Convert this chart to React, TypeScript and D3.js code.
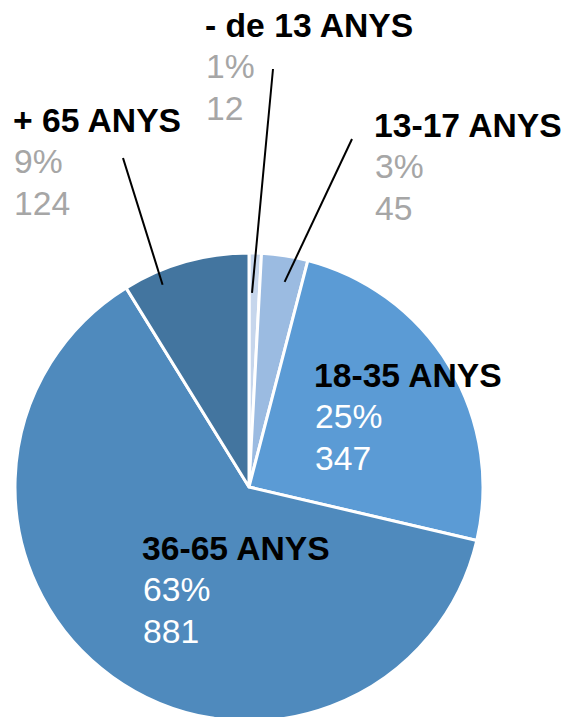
import React from "react";
import * as d3 from "d3";

const categories = ["- de 13 ANYS", "13-17 ANYS", "18-35 ANYS", "36-65 ANYS", "+ 65 ANYS"];
const values = [12, 45, 347, 881, 124];
const percentLabels = ["1%", "3%", "25%", "63%", "9%"];
const colors = ["#c6d6ec", "#9bbbe1", "#5b9bd5", "#4f8abd", "#43759f"];
const valueColors = ["#a6a6a6", "#a6a6a6", "#ffffff", "#ffffff", "#a6a6a6"];

// label layout: text anchor (left, title baseline), leader outer end, leader inner (fraction of slice angle, fraction of radius)
const labelX = [205, 374, 314, 142, 13];
const labelY = [37, 137, 387, 560, 132];
const leaderOuter: ([number, number] | null)[] = [[273, 69], [352, 139], null, null, [123, 158]];
const leaderAngleFrac = [0.29, 0.59, 0, 0, 0.27];
const leaderRadiusFrac = [0.83, 0.89, 0, 0, 0.94];

const W = 568;
const H = 717;
const cx = 249;
const cy = 487;
const R = 234;
const LINE = 41.5;
const SX = 1.02;

export default function App() {
  const pie = d3.pie<number>().sort(null).startAngle(0).endAngle(2 * Math.PI);
  const arcs = pie(values);
  const arc = d3.arc<d3.PieArcDatum<number>>().innerRadius(0).outerRadius(R);

  return (
    <svg
      width={W}
      height={H}
      style={{ position: "absolute", left: 0, top: 0, fontFamily: "'Liberation Sans', Arial, sans-serif" }}
    >
      <g transform={`translate(${cx},${cy})`}>
        {arcs.map((a, i) => (
          <path key={i} d={arc(a) || ""} fill={colors[i]} stroke="#ffffff" strokeWidth={3} strokeLinejoin="round" />
        ))}
      </g>
      {arcs.map((a, i) => {
        const o = leaderOuter[i];
        if (!o) return null;
        const ang = a.startAngle + (a.endAngle - a.startAngle) * leaderAngleFrac[i];
        const r = R * leaderRadiusFrac[i];
        const ix = cx + r * Math.sin(ang);
        const iy = cy - r * Math.cos(ang);
        return <line key={"l" + i} x1={o[0]} y1={o[1]} x2={ix} y2={iy} stroke="#000" strokeWidth={2} />;
      })}
      {categories.map((c, i) => (
        <g key={"t" + i} transform={`translate(${labelX[i]},${labelY[i]}) scale(${SX},1)`} fontSize={33}>
          <text x={0} y={0} fontWeight="bold" fill="#000">{c}</text>
          <text x={1} y={LINE} fill={valueColors[i]}>{percentLabels[i]}</text>
          <text x={1} y={LINE * 2} fill={valueColors[i]}>{values[i]}</text>
        </g>
      ))}
    </svg>
  );
}
